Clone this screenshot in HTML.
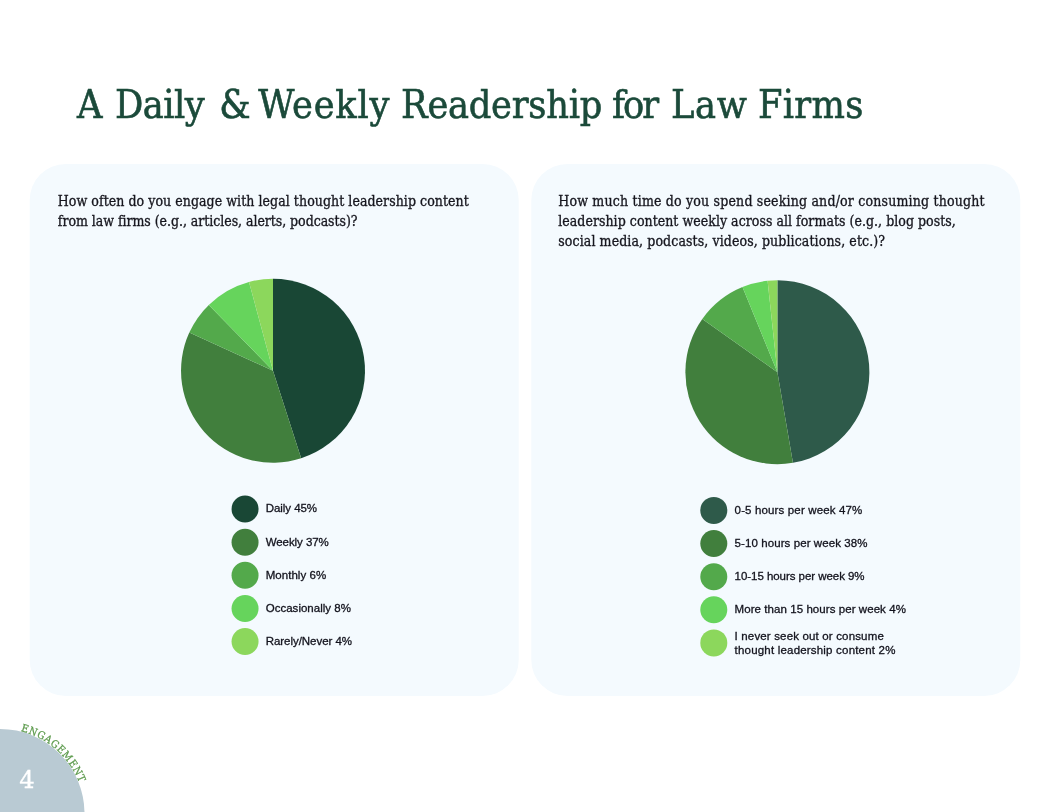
<!DOCTYPE html>
<html lang="en"><head><meta charset="utf-8"><title>A Daily &amp; Weekly Readership for Law Firms</title>
<style>
html,body{margin:0;padding:0;background:#fff;}
body{width:1050px;height:812px;position:relative;overflow:hidden;font-family:"Liberation Sans",sans-serif;}
.ttl{font-family:"DejaVu Serif Condensed","DejaVu Serif","Liberation Serif",serif;font-size:39.2px;fill:#1B4A3A;stroke:#1B4A3A;stroke-width:0.6px;white-space:pre;}
.q{position:absolute;margin:0;font-family:"DejaVu Serif Condensed","DejaVu Serif","Liberation Serif",serif;font-size:14px;line-height:20px;color:#16161e;white-space:nowrap;-webkit-text-stroke:0.3px #16161e;}
.lg{position:absolute;font-size:11.5px;line-height:14px;color:#12121c;white-space:nowrap;-webkit-text-stroke:0.3px #12121c;}
svg{position:absolute;left:0;top:0;}
</style></head>
<body>
<svg width="1050" height="812" viewBox="0 0 1050 812">
<rect x="29.7" y="164" width="489" height="531.9" rx="36" ry="36" fill="#F4FAFE"/>
<rect x="531.3" y="164" width="489" height="531.9" rx="36" ry="36" fill="#F4FAFE"/>
<path d="M273 370.73 L273.00 278.76 A91.97 91.97 0 0 1 301.15 458.29 Z" fill="#194735"/>
<path d="M273 370.73 L301.15 458.29 A91.97 91.97 0 0 1 189.30 332.62 Z" fill="#417F3D"/>
<path d="M273 370.73 L189.30 332.62 A91.97 91.97 0 0 1 208.79 304.89 Z" fill="#53A94B"/>
<path d="M273 370.73 L208.79 304.89 A91.97 91.97 0 0 1 249.01 281.94 Z" fill="#66D45C"/>
<path d="M273 370.73 L249.01 281.94 A91.97 91.97 0 0 1 273.00 278.76 Z" fill="#8CD75C"/>
<path d="M777.4 372.15 L777.40 280.15 A92 92 0 0 1 792.93 462.83 Z" fill="#2E5A4A"/>
<path d="M777.4 372.15 L792.93 462.83 A92 92 0 0 1 702.30 319.01 Z" fill="#417F3D"/>
<path d="M777.4 372.15 L702.30 319.01 A92 92 0 0 1 742.46 287.04 Z" fill="#53A94B"/>
<path d="M777.4 372.15 L742.46 287.04 A92 92 0 0 1 767.59 280.67 Z" fill="#66D45C"/>
<path d="M777.4 372.15 L767.59 280.67 A92 92 0 0 1 777.40 280.15 Z" fill="#8CD75C"/>
<text class="ttl" y="117.6"><tspan x="77.00" letter-spacing="0.000">A </tspan><tspan x="115.00" letter-spacing="-0.500">Daily </tspan><tspan x="219.35" letter-spacing="0.000">&amp; </tspan><tspan x="258.21" letter-spacing="0.792">Weekly </tspan><tspan x="401.08" letter-spacing="-0.236">Readership </tspan><tspan x="612.05" letter-spacing="-2.026">for </tspan><tspan x="671.00" letter-spacing="0.692">Law </tspan><tspan x="758.00" letter-spacing="0.295">Firms </tspan></text>
<circle cx="0" cy="813.5" r="84.5" fill="#B9CAD3"/>
<defs><path id="arc" d="M0 728.5 A85 85 0 0 1 85 813.5"/></defs>
<text font-family='"DejaVu Serif Condensed","DejaVu Serif","Liberation Serif",serif' font-size="10.5" fill="#5c9a4c" stroke="#5c9a4c" stroke-width="0.25" letter-spacing="0.6"><textPath href="#arc" startOffset="21">ENGAGEMENT</textPath></text>
<text x="19.2" y="788.3" font-family='"DejaVu Serif","Liberation Serif",serif' font-size="24.4" fill="#fff" stroke="#fff" stroke-width="0.3">4</text>
<circle cx="245.05" cy="508.95" r="13.5" fill="#194735"/>
<circle cx="245.05" cy="542.2" r="13.5" fill="#417F3D"/>
<circle cx="245.05" cy="575.2" r="13.5" fill="#53A94B"/>
<circle cx="245.05" cy="608.5" r="13.5" fill="#66D45C"/>
<circle cx="245.05" cy="641.5" r="13.5" fill="#8CD75C"/>

<circle cx="713.8" cy="510.4" r="13.5" fill="#2E5A4A"/>
<circle cx="713.8" cy="543.5" r="13.5" fill="#417F3D"/>
<circle cx="713.8" cy="576.7" r="13.5" fill="#53A94B"/>
<circle cx="713.8" cy="609.8" r="13.5" fill="#66D45C"/>
<circle cx="713.8" cy="642.9" r="13.5" fill="#8CD75C"/>

</svg>
<div id="q1a" class="q" style="left:57.8px;top:191.1px;letter-spacing:0.049px">How often do you engage with legal thought leadership content</div>
<div id="q1b" class="q" style="left:57.8px;top:211.1px;letter-spacing:-0.047px">from law firms (e.g., articles, alerts, podcasts)?</div>
<div id="q2a" class="q" style="left:558.3px;top:191.1px;letter-spacing:0.180px">How much time do you spend seeking and/or consuming thought</div>
<div id="q2b" class="q" style="left:558.3px;top:211.1px;letter-spacing:0.029px">leadership content weekly across all formats (e.g., blog posts,</div>
<div id="q2c" class="q" style="left:558.3px;top:231.1px;letter-spacing:0.096px">social media, podcasts, videos, publications, etc.)?</div>
<div id="a0" class="lg" style="left:265.7px;top:501.3px;letter-spacing:-0.048px">Daily 45%</div>
<div id="a1" class="lg" style="left:265.7px;top:534.6px;letter-spacing:-0.069px">Weekly 37%</div>
<div id="a2" class="lg" style="left:265.7px;top:567.6px;letter-spacing:0.045px">Monthly 6%</div>
<div id="a3" class="lg" style="left:265.7px;top:600.9px;letter-spacing:0.020px">Occasionally 8%</div>
<div id="a4" class="lg" style="left:265.7px;top:633.9px;letter-spacing:-0.037px">Rarely/Never 4%</div>
<div id="b0" class="lg" style="left:734.6px;top:502.8px;letter-spacing:0.145px">0-5 hours per week 47%</div>
<div id="b1" class="lg" style="left:734.6px;top:535.9px;letter-spacing:0.084px">5-10 hours per week 38%</div>
<div id="b2" class="lg" style="left:734.6px;top:569.1px;letter-spacing:-0.048px">10-15 hours per week 9%</div>
<div id="b3" class="lg" style="left:734.6px;top:602.2px;letter-spacing:0.065px">More than 15 hours per week 4%</div>
<div id="b4" class="lg" style="left:734.6px;top:628.7px;letter-spacing:0.157px">I never seek out or consume</div>
<div id="b5" class="lg" style="left:734.6px;top:642.7px;letter-spacing:0.194px">thought leadership content 2%</div>

</body></html>
